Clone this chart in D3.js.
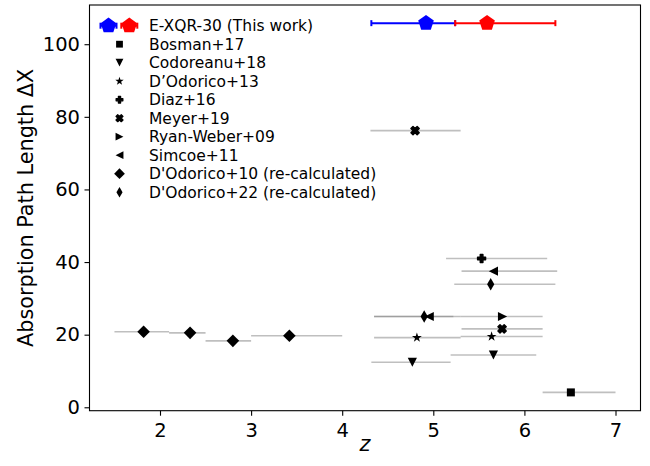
<!DOCTYPE html>
<html>
<head>
<meta charset="utf-8">
<script src="https://cdn.jsdelivr.net/npm/d3@7"></script>
<style>
  html, body { margin: 0; padding: 0; background: #fff; }
  svg { display: block; font-family: "DejaVu Sans", sans-serif; }
</style>
</head>
<body>
<svg id="chart" width="650" height="466"></svg>
<script>
// ---------------- data ----------------
const xTicks = [2, 3, 4, 5, 6, 7];
const yTicks = [0, 20, 40, 60, 80, 100];

// E-XQR-30 (this work): z, ΔX, z-bin low, z-bin high
const exqrBlue = [{ z: 4.92, dx: 105.8, lo: 4.32, hi: 5.24 }];
const exqrRed  = [{ z: 5.59, dx: 105.8, lo: 5.24, hi: 6.34 }];

const bosman17    = [{ z: 6.51, dx: 4.1,  lo: 6.20, hi: 7.00 }];
const codoreanu18 = [{ z: 4.77, dx: 12.4, lo: 4.32, hi: 5.19 },
                     { z: 5.66, dx: 14.4, lo: 5.19, hi: 6.13 }];
const dodorico13  = [{ z: 4.82, dx: 19.2, lo: 4.35, hi: 5.30 },
                     { z: 5.64, dx: 19.5, lo: 5.30, hi: 6.20 }];
const diaz16      = [{ z: 5.53, dx: 41.0, lo: 5.14, hi: 6.25 }];
const meyer19     = [{ z: 4.80, dx: 76.2, lo: 4.31, hi: 5.30 },
                     { z: 5.755, dx: 21.6, lo: 5.31, hi: 6.20 }];
const ryanWeber09 = [{ z: 5.76, dx: 25.0, lo: 5.30, hi: 6.20 }];
const simcoe11    = [{ z: 4.955, dx: 25.0, lo: 4.35, hi: 5.22 },
                     { z: 5.66, dx: 37.5, lo: 5.31, hi: 6.36 }];
const dodorico10  = [{ z: 1.82, dx: 20.8, lo: 1.50, hi: 2.10 },
                     { z: 2.33, dx: 20.5, lo: 2.10, hi: 2.50 },
                     { z: 2.80, dx: 18.3, lo: 2.50, hi: 3.00 },
                     { z: 3.42, dx: 19.7, lo: 3.00, hi: 4.00 }];
const dodorico22  = [{ z: 5.63, dx: 33.9, lo: 5.23, hi: 6.34 },
                     { z: 4.90, dx: 25.0, lo: 4.35, hi: 5.30 }];

const legendLabels = ["E-XQR-30 (This work)", "Bosman+17", "Codoreanu+18", "D\u2019Odorico+13",
  "Diaz+16", "Meyer+19", "Ryan-Weber+09", "Simcoe+11",
  "D'Odorico+10 (re-calculated)", "D'Odorico+22 (re-calculated)"];

// ---------------- marker shapes ----------------
function starPath(r) {
  const pts = [];
  for (let i = 0; i < 10; i++) {
    const rr = i % 2 === 0 ? r : r * 0.382;
    const a = -Math.PI / 2 + i * Math.PI / 5;
    pts.push([rr * Math.cos(a), rr * Math.sin(a)]);
  }
  return "M" + pts.map(p => p.join(",")).join("L") + "Z";
}
function pentPath(r) {
  const pts = [];
  for (let i = 0; i < 5; i++) {
    const a = -Math.PI / 2 + i * 2 * Math.PI / 5;
    pts.push([r * Math.cos(a), r * Math.sin(a)]);
  }
  return "M" + pts.map(p => p.join(",")).join("L") + "Z";
}
function plusPts(h) {
  const a = h / 3;
  return [[-a,-h],[a,-h],[a,-a],[h,-a],[h,a],[a,a],[a,h],[-a,h],[-a,a],[-h,a],[-h,-a],[-a,-a]];
}
function plusPath(h) { return "M" + plusPts(h).map(p => p.join(",")).join("L") + "Z"; }
function xPath(h) {
  const c = Math.SQRT1_2;
  return "M" + plusPts(h).map(([x, y]) => [(x - y) * c, (x + y) * c].join(",")).join("L") + "Z";
}
const shapes = {
  square: `M-4,-4H4V4H-4Z`,
  triDown: `M0,4.6L-4.6,-4.6L4.6,-4.6Z`,
  triRight: `M4.6,0L-4.6,-4.6L-4.6,4.6Z`,
  triLeft: `M-4.6,0L4.6,-4.6L4.6,4.6Z`,
  star: starPath(5.2),
  plus: plusPath(4.0),
  xfill: xPath(4.4),
  diamond: `M0,-6.3L6.3,0L0,6.3L-6.3,0Z`,
  thinDiamond: `M0,-6.2L3.6,0L0,6.2L-3.6,0Z`,
  pentagon: pentPath(8.2)
};
const strokeW = { plus: 1.4, xfill: 1.4 };

const series = [
  { data: bosman17, shape: "square" },
  { data: codoreanu18, shape: "triDown" },
  { data: dodorico13, shape: "star" },
  { data: diaz16, shape: "plus" },
  { data: meyer19, shape: "xfill" },
  { data: ryanWeber09, shape: "triRight" },
  { data: simcoe11, shape: "triLeft" },
  { data: dodorico10, shape: "diamond" },
  { data: dodorico22, shape: "thinDiamond" }
];

// ---------------- layout ----------------
const L = 89.5, R = 640.5, T = 5, B = 410.7;
const x = d3.scaleLinear().domain([1.2261, 7.2744]).range([L, R]);
const y = d3.scaleLinear().domain([-0.94, 110.8]).range([B, T]);

const svg = d3.select("#chart");

// gray error bars + markers
const g = svg.append("g");
series.forEach(s => {
  s.data.forEach(d => {
    g.append("line")
      .attr("x1", x(d.lo)).attr("x2", x(d.hi))
      .attr("y1", y(d.dx)).attr("y2", y(d.dx))
      .attr("stroke", "gray").attr("stroke-opacity", 0.5).attr("stroke-width", 1.6);
  });
});
series.forEach(s => {
  s.data.forEach(d => {
    g.append("path").attr("d", shapes[s.shape])
      .attr("transform", `translate(${x(d.z)},${y(d.dx)})`)
      .attr("fill", "black")
      .attr("stroke", strokeW[s.shape] ? "black" : "none")
      .attr("stroke-width", strokeW[s.shape] || 0)
      .attr("stroke-linejoin", "round");
  });
});

// this work
[[exqrBlue, "#0000ff"], [exqrRed, "#ff0000"]].forEach(([arr, col]) => {
  arr.forEach(d => {
    const yy = y(d.dx);
    g.append("line").attr("x1", x(d.lo)).attr("x2", x(d.hi)).attr("y1", yy).attr("y2", yy)
      .attr("stroke", col).attr("stroke-width", 2);
    [d.lo, d.hi].forEach(v => {
      g.append("line").attr("x1", x(v)).attr("x2", x(v)).attr("y1", yy - 3).attr("y2", yy + 3)
        .attr("stroke", col).attr("stroke-width", 2);
    });
    g.append("path").attr("d", shapes.pentagon)
      .attr("transform", `translate(${x(d.z)},${yy})`).attr("fill", col);
  });
});

// axes
const xAxis = svg.append("g").attr("transform", `translate(0,${B})`)
  .call(d3.axisBottom(x).tickValues(xTicks).tickSize(5).tickPadding(7).tickFormat(d3.format("d")));
const yAxis = svg.append("g").attr("transform", `translate(${L},0)`)
  .call(d3.axisLeft(y).tickValues(yTicks).tickSize(5).tickPadding(4.5).tickFormat(d3.format("d")));
[xAxis, yAxis].forEach(a => {
  a.select(".domain").remove();
  a.selectAll(".tick line").attr("stroke", "black").attr("stroke-width", 1.1);
  a.selectAll(".tick text").attr("font-size", 19.5).attr("fill", "black")
    .attr("font-family", "DejaVu Sans");
});

// frame
svg.append("rect").attr("x", L).attr("y", T).attr("width", R - L).attr("height", B - T)
  .attr("fill", "none").attr("stroke", "black").attr("stroke-width", 1.1);

// axis labels
svg.append("text").attr("transform", `translate(33,${(T + B) / 2}) rotate(-90)`)
  .attr("text-anchor", "middle").attr("font-size", 20.8).attr("fill", "black")
  .text("Absorption Path Length \u0394X");
svg.append("text").attr("x", (L + R) / 2).attr("y", 451)
  .attr("text-anchor", "middle").attr("font-size", 20.8).attr("font-style", "italic")
  .attr("fill", "black").text("z");

// legend
const lg = svg.append("g");
const rowY = i => 25.7 + i * 18.5;
legendLabels.forEach((lab, i) => {
  lg.append("text").attr("x", 149).attr("y", rowY(i)).attr("dy", "0.36em")
    .attr("font-size", 15.5).attr("fill", "black").text(lab);
});
// this work legend handle
[[108.5, "#0000ff"], [129.3, "#ff0000"]].forEach(([cx, col]) => {
  const yy = rowY(0);
  lg.append("line").attr("x1", cx - 8).attr("x2", cx + 8).attr("y1", yy).attr("y2", yy)
    .attr("stroke", col).attr("stroke-width", 2);
  [cx - 8, cx + 8].forEach(v => lg.append("line").attr("x1", v).attr("x2", v)
    .attr("y1", yy - 3).attr("y2", yy + 3).attr("stroke", col).attr("stroke-width", 2));
  lg.append("path").attr("d", shapes.pentagon)
    .attr("transform", `translate(${cx},${yy})`).attr("fill", col);
});
series.forEach((s, i) => {
  lg.append("path").attr("d", shapes[s.shape])
    .attr("transform", `translate(119.5,${rowY(i + 1)}) scale(0.85)`)
    .attr("fill", "black")
    .attr("stroke", strokeW[s.shape] ? "black" : "none")
    .attr("stroke-width", strokeW[s.shape] || 0)
    .attr("stroke-linejoin", "round");
});
</script>
</body>
</html>
